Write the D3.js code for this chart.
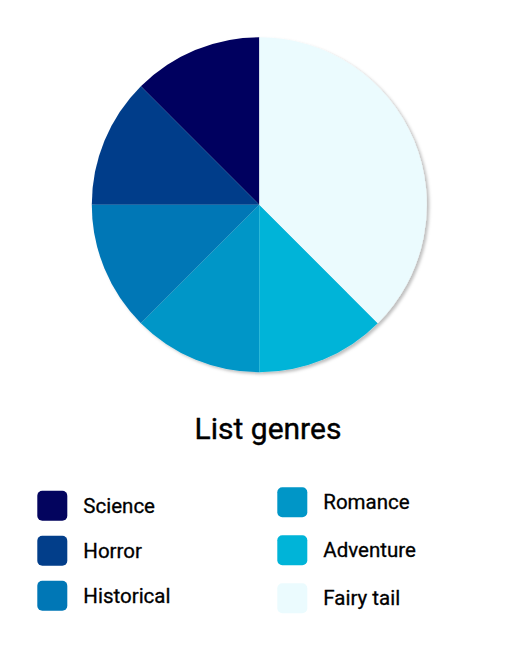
<!DOCTYPE html>
<html>
<head>
<meta charset="utf-8">
<script src="https://cdn.jsdelivr.net/npm/d3@7"></script>
<style>
  body { margin: 0; background: #fff; }
  text { font-family: Roboto, "Noto Sans", sans-serif; }
</style>
</head>
<body>
<div id="chart"></div>
<script>
// data
var genres = ["Science", "Horror", "Historical", "Romance", "Adventure", "Fairy tail"]
var counts = [1, 1, 1, 1, 1, 3]
var colors = ["#03045e", "#023e8a", "#0077b6", "#0096c7", "#00b4d8", "#ebfbfe"]
var title = "List genres"

var sheet = {w: 520, h: 653, cx: 259.3, cy: 204.7, r: 167.5}

var svg = d3.select("#chart")
    .append("svg")
    .attr("width", sheet.w)
    .attr("height", sheet.h)

// soft shadow under the pie
var filter = svg.append("defs").append("filter")
    .attr("id", "shadow")
    .attr("x", "-10%").attr("y", "-10%")
    .attr("width", "120%").attr("height", "120%")
filter.append("feDropShadow")
    .attr("dx", 2.5)
    .attr("dy", 2)
    .attr("stdDeviation", 1.5)
    .attr("flood-color", "#000")
    .attr("flood-opacity", 0.25)

var color = d3.scaleOrdinal().domain(genres).range(colors)

var rows = genres.map(function(g, i){ return {genre: g, value: counts[i]} })

// drawn counter-clockwise from the top so Science ends up top-left
var pie = d3.pie()
    .sort(null)
    .value(function(d){ return d.value })
    .startAngle(2 * Math.PI)
    .endAngle(0)

var arc = d3.arc().innerRadius(0).outerRadius(sheet.r)

var g = svg.append("g")
    .attr("transform", "translate(" + sheet.cx + "," + sheet.cy + ")")
    .attr("filter", "url(#shadow)")

g.selectAll("path")
    .data(pie(rows))
    .enter()
    .append("path")
    .attr("d", arc)
    .attr("fill", function(d){ return color(d.data.genre) })

// title
svg.append("text")
    .attr("x", 268)
    .attr("y", 439)
    .attr("text-anchor", "middle")
    .attr("font-size", 30)
    .attr("fill", "#000")
    .attr("stroke", "#000")
    .attr("stroke-width", 0.4)
    .text(title)

// legend: two columns of three
var colX = [37.3, 277.3]
var colTop = [490.7, 487.3]
var colStep = [45, 48]

var legend = svg.selectAll(".legend")
    .data(rows)
    .enter()
    .append("g")
    .attr("class", "legend")
    .attr("transform", function(d, i){
        var c = Math.floor(i / 3), k = i % 3
        return "translate(" + colX[c] + "," + (colTop[c] + k * colStep[c]) + ")"
    })

legend.append("rect")
    .attr("width", 30)
    .attr("height", 30)
    .attr("rx", 5)
    .attr("fill", function(d){ return color(d.genre) })

legend.append("text")
    .attr("x", 46)
    .attr("y", 22)
    .attr("font-size", 20.5)
    .attr("fill", "#000")
    .attr("stroke", "#000")
    .attr("stroke-width", 0.3)
    .text(function(d){ return d.genre })
</script>
</body>
</html>
